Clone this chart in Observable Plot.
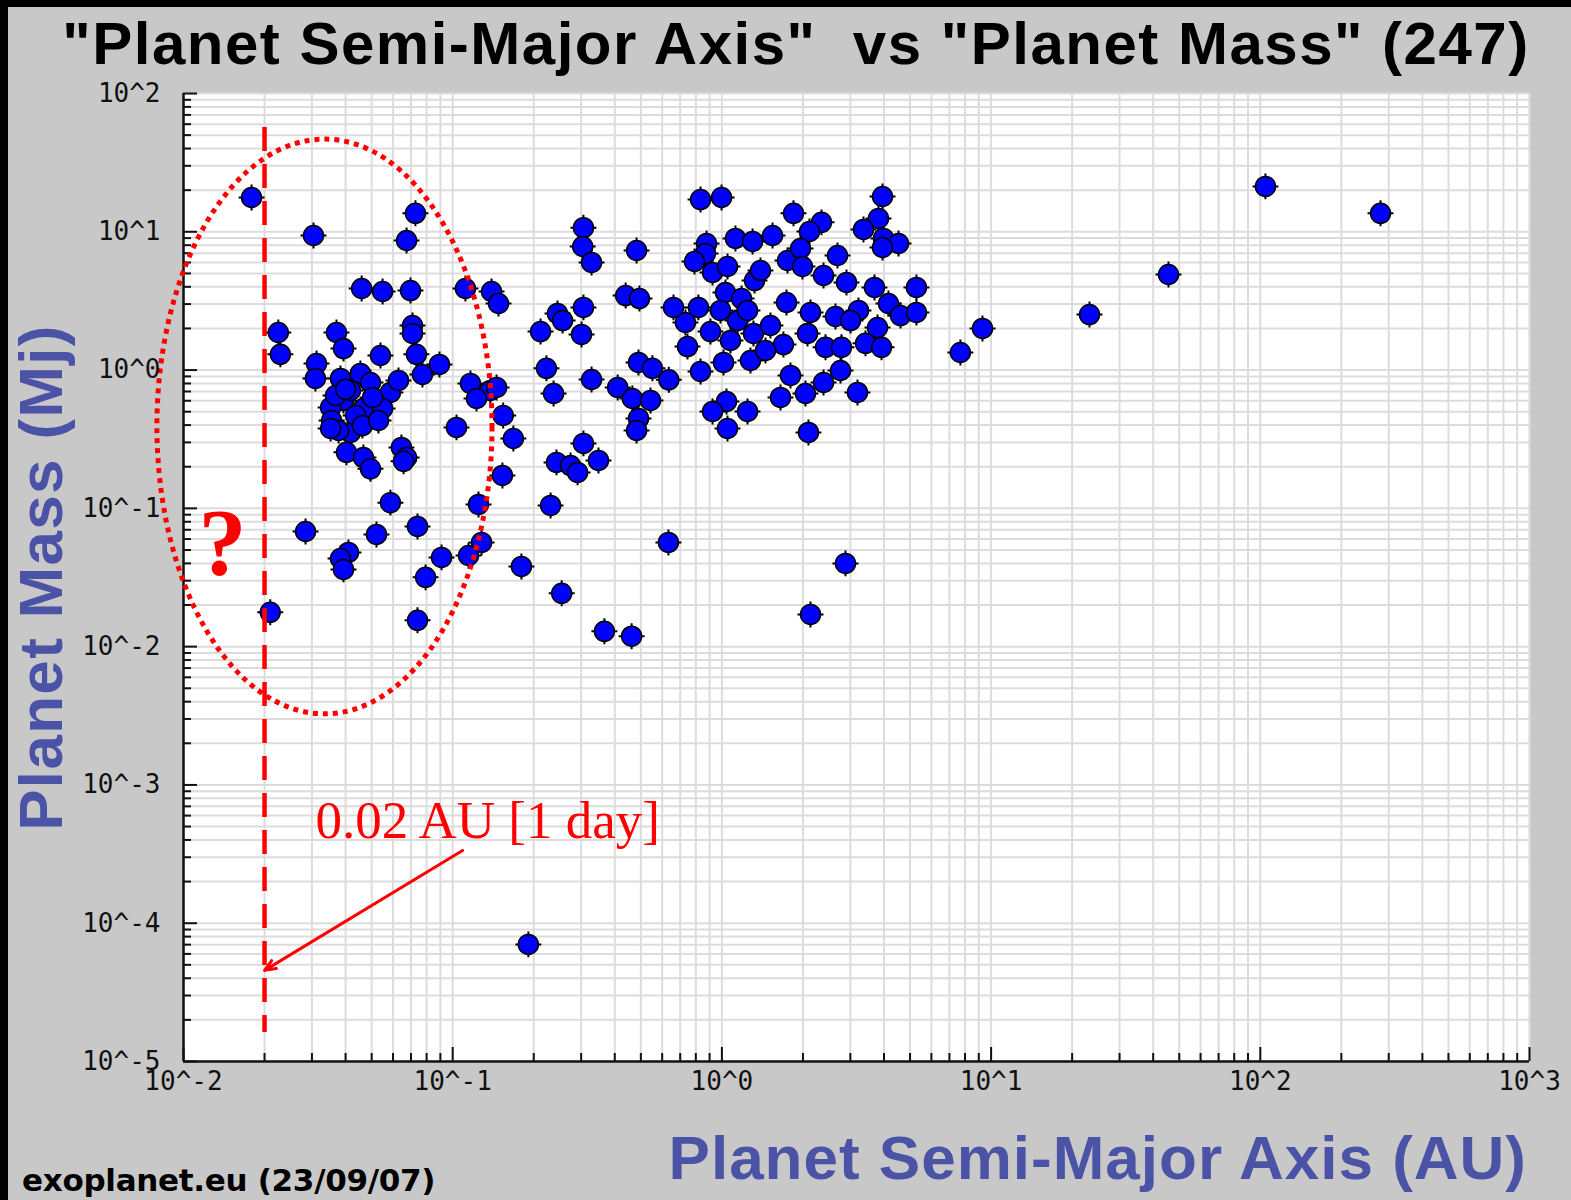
<!DOCTYPE html>
<html>
<head>
<meta charset="utf-8">
<script src="https://cdn.jsdelivr.net/npm/d3@7"></script>
<script src="https://cdn.jsdelivr.net/npm/@observablehq/plot@0.6"></script>
<style>
html, body { margin: 0; padding: 0; background: #c8c8c8; }
#page { position: relative; width: 1571px; height: 1200px; background: #c8c8c8; overflow: hidden; }
.bar { position: absolute; background: #000; }
#title { position: absolute; left: 0; width: 1592px; top: 14px; text-align: center; font: bold 60px "Liberation Sans", Arial, sans-serif; line-height: 60px; letter-spacing: 1.5px; white-space: pre; color: #000; }
#xlabel { position: absolute; right: 44px; top: 1127px; font: bold 62px "Liberation Sans", Arial, sans-serif; line-height: 62px; letter-spacing: 1px; white-space: pre; color: #4b53a6; }
#footer { position: absolute; left: 22px; top: 1165px; font: bold 31px "DejaVu Sans", sans-serif; line-height: 31px; white-space: pre; color: #000; letter-spacing: -0.3px; }
#chart { position: absolute; left: 0; top: 80px; }
</style>
</head>
<body>
<div id="page">
  <div class="bar" style="left:0;top:0;width:1571px;height:7px;"></div>
  <div class="bar" style="left:0;top:0;width:8px;height:1200px;"></div>
  <div id="title">"Planet Semi-Major Axis"  vs "Planet Mass" (247)</div>
  <div id="chart"></div>
  <div id="xlabel">Planet Semi-Major Axis (AU)</div>
  <div id="footer">exoplanet.eu (23/09/07)</div>
</div>
<script>
// ---- Data ----
const semiMajorAxis = [
  0.833, 0.997, 3.95, 1.845, 2.344, 2.115, 3.816, 3.357, 3.984, 4.53, 3.95, 1.123, 1.30, 1.542, 0.877, 0.869, 0.791, 0.923, 1.049, 1.031,
  1.322, 1.391, 1.753, 1.959, 1.992, 2.385, 2.688, 2.903, 3.688, 5.28, 1.183, 1.738, 2.134, 2.642, 3.217, 4.157, 4.607, 5.28, 3.784, 0.732,
  0.907, 0.745, 1.143, 1.31, 1.245, 1.693, 2.08, 2.426, 2.781, 3.415, 3.917, 1.014, 0.833, 1.277, 1.798, 1.651, 2.044, 2.385, 2.758, 1.040,
  0.923, 1.245, 1.049, 2.097, 3.189, 1.515, 1.452, 1.076, 3.004, 0.988, 0.661, 0.818, 0.635,
  0.306, 0.304, 0.328, 0.482, 0.439, 0.494, 0.306, 0.245, 0.256, 0.212, 0.301, 0.223, 0.237, 0.328, 0.41, 0.465, 0.543, 0.49, 0.552, 0.49,
  0.482, 0.168, 0.306, 0.243, 0.274, 0.348, 0.291, 0.153, 0.231, 0.18, 0.254, 0.366, 0.462, 0.633, 0.191, 0.154,
  0.0179, 0.0304, 0.0727, 0.0674, 0.0459, 0.0549, 0.0697, 0.1115, 0.1394, 0.148, 0.0225, 0.0229, 0.037, 0.0393, 0.0312, 0.0309, 0.0383, 0.0539, 0.0709, 0.0709,
  0.0733, 0.0893, 0.0772, 0.0454, 0.0495, 0.0587, 0.0393, 0.0466, 0.0549, 0.0352, 0.0355, 0.0417, 0.1033, 0.0645, 0.0403, 0.0466, 0.0674, 0.138, 0.1164, 0.1226,
  0.1455, 0.0495, 0.0657, 0.0587, 0.0284, 0.0521, 0.074, 0.041, 0.0383, 0.0393, 0.1247, 0.128, 0.1145, 0.0909, 0.0793, 0.074, 0.021, 0.0367, 0.0417, 0.0436,
  0.0504, 0.0377, 0.0462, 0.053, 0.04, 0.0629, 0.0352,
  7.69, 9.29, 23.2, 45.6, 104.5, 279.6, 2.878, 2.134
];
const planetMass = [
  17.1, 17.7, 18.0, 13.6, 11.7, 10.05, 12.5, 10.4, 8.95, 8.23, 7.70, 8.95, 8.51, 9.40, 8.23, 6.97, 6.10, 5.08, 5.61, 3.64,
  4.44, 5.25, 6.20, 7.57, 5.61, 4.83, 6.74, 4.30, 3.96, 3.96, 3.29, 3.08, 2.61, 2.44, 2.70, 3.03, 2.48, 2.61, 2.03, 2.21,
  1.90, 1.48, 2.28, 1.84, 2.70, 1.53, 1.84, 1.46, 1.46, 1.56, 1.46, 1.135, 0.977, 1.173, 0.914, 0.634, 0.677, 0.813, 0.993, 0.593,
  0.502, 0.502, 0.378, 0.354, 0.689, 2.10, 1.386, 1.637, 2.28, 2.70, 2.84, 2.84, 0.85,
  10.7, 7.83, 6.00, 7.32, 3.46, 3.29, 2.84, 2.57, 2.28, 1.90, 1.81, 1.03, 0.677, 0.855, 0.749, 0.623, 0.603, 1.135, 1.03, 0.447,
  0.366, 0.320, 0.295, 0.215, 0.204, 0.222, 0.182, 0.173, 0.105, 0.038, 0.0243, 0.0129, 0.0119, 0.0567, 7.03e-5, 0.47,
  17.7, 9.40, 13.6, 8.65, 3.89, 3.70, 3.76, 3.89, 3.70, 3.03, 1.87, 1.30, 1.87, 1.43, 1.116, 0.870, 0.870, 1.275, 2.10, 1.84,
  1.30, 1.098, 0.929, 0.945, 0.813, 0.689, 0.603, 0.528, 0.528, 0.537, 0.432, 0.354, 0.385, 0.276, 0.254, 0.233, 0.233, 0.712, 0.80, 0.623,
  0.749, 0.193, 0.219, 0.110, 0.068, 0.0648, 0.074, 0.048, 0.0434, 0.0362, 0.1067, 0.0567, 0.0456, 0.0442, 0.0317, 0.0155, 0.0177, 0.655, 0.712, 0.47,
  0.634, 0.366, 0.397, 0.432, 0.726, 0.841, 0.378,
  1.34, 2.0, 2.52, 4.91, 21.3, 13.6, 0.040, 0.0171
];
const xMajorTicks = [0.01, 0.1, 1, 10, 100, 1000];
const xTickLabels = ["10^-2", "10^-1", "10^0", "10^1", "10^2", "10^3"];
const yMajorTicks = [1e-5, 1e-4, 1e-3, 1e-2, 1e-1, 1, 10, 100];
const yTickLabels = ["10^-5", "10^-4", "10^-3", "10^-2", "10^-1", "10^0", "10^1", "10^2"];
const yAxisTitle = "Planet Mass (Mj)";

// ---- Annotations (data coordinates) ----
const limitAU = [0.02];                    // 1-day orbit limit
const limitSpan = [56.8, 1.62e-5];         // mass range of dashed line
const limitText = ["0.02 AU [1 day]"];
const limitTextAt = [0.0309, 5.44e-4];
const arrowFrom = [0.1088, 3.36e-4];
const arrowTo = [0.02, 4.56e-5];
const ellipseBox = [0.008, 0.1406, 0.00324, 46.4]; // aMin, aMax, mMin, mMax
const questionAt = [0.01396, 0.0548];

// ---- Build ----
const data = semiMajorAxis.map((a, i) => ({a, m: planetMass[i]}));
const isMajor = t => Math.abs(Math.log10(t) - Math.round(Math.log10(t))) < 1e-9;
const xAll = d3.scaleLog().domain([0.01, 1000]).ticks();
const yAll = d3.scaleLog().domain([1e-5, 100]).ticks();
const xMinor = xAll.filter(t => !isMajor(t));
const yMinor = yAll.filter(t => !isMajor(t));

const W = 1571, H = 1030, mL = 183, mR = 42, mT = 13, mB = 49;
const fw = W - mL - mR, fh = H - mT - mB;
const red = "#ff0000";

function ellipseMark(index, scales) {
  const x1 = scales.x(ellipseBox[0]), x2 = scales.x(ellipseBox[1]);
  const y1 = scales.y(ellipseBox[3]), y2 = scales.y(ellipseBox[2]);
  const el = document.createElementNS("http://www.w3.org/2000/svg", "ellipse");
  el.setAttribute("cx", (x1 + x2) / 2);
  el.setAttribute("cy", (y1 + y2) / 2);
  el.setAttribute("rx", Math.abs(x2 - x1) / 2);
  el.setAttribute("ry", Math.abs(y2 - y1) / 2);
  el.setAttribute("fill", "none");
  el.setAttribute("stroke", red);
  el.setAttribute("stroke-width", 5);
  el.setAttribute("stroke-dasharray", "5 5");
  return el;
}

const chart = Plot.plot({
  width: W, height: H,
  marginLeft: mL, marginRight: mR, marginTop: mT, marginBottom: mB,
  style: {background: "transparent", overflow: "visible"},
  x: {type: "log", domain: [0.01, 1000], axis: null},
  y: {type: "log", domain: [1e-5, 100], axis: null},
  marks: [
    Plot.frame({fill: "white", stroke: null}),
    Plot.ruleX(xAll, {stroke: "#dcdcdc", strokeWidth: 2}),
    Plot.ruleY(yAll, {stroke: "#dcdcdc", strokeWidth: 2}),
    Plot.ruleX(xMinor, {insetTop: fh - 8, stroke: "#111", strokeWidth: 2}),
    Plot.ruleX(xMajorTicks, {insetTop: fh - 14, stroke: "#111", strokeWidth: 2}),
    Plot.ruleY(yMinor, {insetRight: fw - 8, stroke: "#111", strokeWidth: 2}),
    Plot.ruleY(yMajorTicks, {insetRight: fw - 14, stroke: "#111", strokeWidth: 2}),
    Plot.ruleX([0.01], {stroke: "#111", strokeWidth: 2.5}),
    Plot.ruleY([1e-5], {stroke: "#111", strokeWidth: 2.5}),
    Plot.dot(data, {x: "a", y: "m", symbol: "plus", r: 8.4, stroke: "#000", strokeWidth: 2}),
    Plot.dot(data, {x: "a", y: "m", r: 10, fill: "#0000ff", stroke: "#000", strokeWidth: 1.5}),
    Plot.ruleX(limitAU, {y1: limitSpan[0], y2: limitSpan[1], stroke: red, strokeWidth: 4.5, strokeDasharray: "24 13"}),
    ellipseMark,
    Plot.arrow([0], {x1: arrowFrom[0], y1: arrowFrom[1], x2: arrowTo[0], y2: arrowTo[1], stroke: red, strokeWidth: 3, headLength: 6, headAngle: 45}),
    Plot.text(limitText, {x: limitTextAt[0], y: limitTextAt[1], text: d => d, textAnchor: "start", fontFamily: "Liberation Serif, serif", fontSize: 53, fill: red}),
    Plot.text(["?"], {x: questionAt[0], y: questionAt[1], text: d => d, fontFamily: "Liberation Serif, serif", fontWeight: "bold", fontSize: 96, fill: red}),
    Plot.text(xMajorTicks, {x: d => d, frameAnchor: "bottom", dy: 28, text: (d, i) => xTickLabels[i], fontFamily: "DejaVu Sans Mono, monospace", fontSize: 26, fill: "#111"}),
    Plot.text(yMajorTicks, {y: d => d, frameAnchor: "left", dx: -23, textAnchor: "end", text: (d, i) => yTickLabels[i], fontFamily: "DejaVu Sans Mono, monospace", fontSize: 26, fill: "#111"}),
    Plot.text([yAxisTitle], {frameAnchor: "left", dx: -141, rotate: -90, textAnchor: "middle", text: d => d, fontFamily: "Liberation Sans, Arial, sans-serif", fontWeight: "bold", fontSize: 62, fill: "#4b53a6"})
  ]
});
d3.select(chart).selectAll("text").filter(function () { return this.textContent === yAxisTitle; }).attr("letter-spacing", "1.3px");
document.getElementById("chart").appendChild(chart);
</script>
</body>
</html>
